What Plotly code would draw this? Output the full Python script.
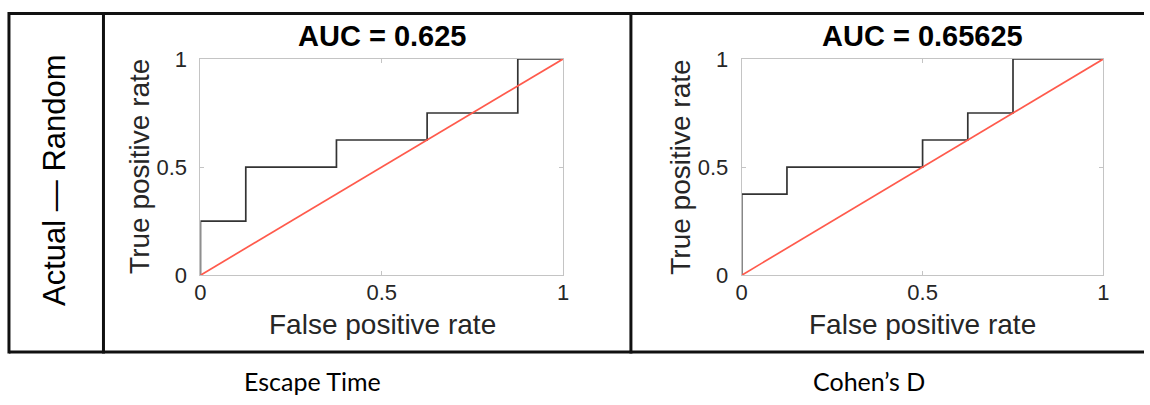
import plotly.graph_objects as go

# ROC curve vertices for each measure
escape_fpr = [0, 0, 0.125, 0.125, 0.375, 0.375, 0.625, 0.625, 0.875, 0.875, 1]
escape_tpr = [0, 0.25, 0.25, 0.5, 0.5, 0.625, 0.625, 0.75, 0.75, 1, 1]
cohen_fpr = [0, 0, 0.125, 0.125, 0.5, 0.5, 0.625, 0.625, 0.75, 0.75, 1]
cohen_tpr = [0, 0.375, 0.375, 0.5, 0.5, 0.625, 0.625, 0.75, 0.75, 1, 1]
chance_line = [0, 1]

auc_titles = ["AUC = 0.625", "AUC = 0.65625"]
column_labels = ["Escape Time", "Cohen’s D"]
row_label = "Actual — Random"
tick_vals = [0, 0.5, 1]
tick_text = ["0", "0.5", "1"]

W, H = 1150, 405


def px(x):
    return x / W


def py(y):
    return 1 - y / H


fig = go.Figure()

for i, (fx, ty) in enumerate([(escape_fpr, escape_tpr), (cohen_fpr, cohen_tpr)]):
    xa = "x" if i == 0 else "x2"
    ya = "y" if i == 0 else "y2"
    fig.add_trace(go.Scatter(x=fx, y=ty, mode="lines", xaxis=xa, yaxis=ya,
                             line=dict(color="#333333", width=1.7), showlegend=False,
                             cliponaxis=False))
    fig.add_trace(go.Scatter(x=chance_line, y=chance_line, mode="lines", xaxis=xa, yaxis=ya,
                             line=dict(color="#ff5a4c", width=1.7), showlegend=False,
                             cliponaxis=False))

tick_font = dict(family="Liberation Sans, Arial, sans-serif", size=22, color="#262626")
axis_common = dict(range=[0, 1], tickvals=tick_vals, ticktext=tick_text, showgrid=False,
                   zeroline=False, showline=True, mirror="ticks", linecolor="#c4c4c4",
                   linewidth=1, ticks="inside", ticklen=4, tickcolor="#c4c4c4",
                   tickfont=tick_font, fixedrange=True)

ydom = [py(280.5), py(50)]
fig.update_layout(
    width=W, height=H, margin=dict(l=0, r=0, t=0, b=0),
    paper_bgcolor="white", plot_bgcolor="white",
    xaxis=dict(domain=[px(196.5), px(563)], anchor="y", ticklabelstandoff=-3, **axis_common),
    yaxis=dict(domain=ydom, anchor="x", ticklabelstandoff=8, **axis_common),
    xaxis2=dict(domain=[px(743.5), px(1109)], anchor="y2", ticklabelstandoff=-3, **axis_common),
    yaxis2=dict(domain=ydom, anchor="x2", ticklabelstandoff=8, **axis_common),
)

label_font = dict(family="Liberation Sans, Arial, sans-serif", size=28, color="#262626")
annotations = []
for cx, ylab_x, title in [(380, 135.5, auc_titles[0]), (926, 682, auc_titles[1])]:
    annotations.append(dict(text=f"<b>{title}</b>", x=px(cx), y=py(26), xref="paper", yref="paper",
                            showarrow=False, xanchor="center", yanchor="middle",
                            font=dict(family="Liberation Sans, Arial, sans-serif", size=29, color="black")))
    annotations.append(dict(text="False positive rate", x=px(cx), y=py(333.5), xref="paper", yref="paper",
                            showarrow=False, xanchor="center", yanchor="middle", font=label_font))
    annotations.append(dict(text="True positive rate", x=px(ylab_x), y=py(165), xref="paper", yref="paper",
                            showarrow=False, xanchor="center", yanchor="middle", textangle=-90,
                            font=label_font))

annotations.append(dict(text=row_label, x=px(49.5), y=py(179), xref="paper", yref="paper",
                        showarrow=False, xanchor="center", yanchor="middle", textangle=-90,
                        font=dict(family="Liberation Sans, Arial, sans-serif", size=31, color="black")))
for cx, lab in [(310, column_labels[0]), (872.5, column_labels[1])]:
    annotations.append(dict(text=lab, x=px(cx), y=py(393.5), xref="paper", yref="paper",
                            showarrow=False, xanchor="center", yanchor="middle",
                            font=dict(family="Lato, sans-serif", size=25, color="black")))
fig.update_layout(annotations=annotations)

# Table frame around the panels
frame = dict(color="#111111", width=3)
shapes = [
    dict(type="line", xref="paper", yref="paper", x0=px(3), x1=1, y0=py(1.5), y1=py(1.5), line=frame),
    dict(type="line", xref="paper", yref="paper", x0=px(3), x1=1, y0=py(362.5), y1=py(362.5), line=frame),
]
for xv in [3, 98.5, 631.5]:
    shapes.append(dict(type="line", xref="paper", yref="paper", x0=px(xv), x1=px(xv),
                       y0=py(0), y1=py(364), line=frame))
fig.update_layout(shapes=shapes)

fig.write_html("out.html")
